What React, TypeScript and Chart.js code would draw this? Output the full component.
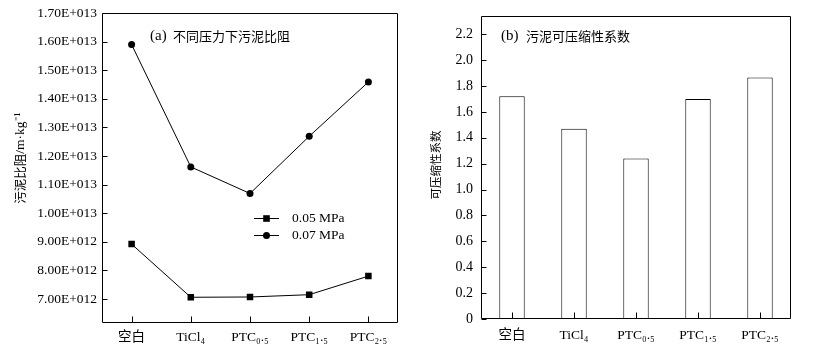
import React, { useEffect, useRef } from "react";
import { Chart, registerables } from "chart.js";

Chart.register(...registerables);

// ---------- data ----------
const categories = ["空白", "TiCl₄", "PTC₀.₅", "PTC₁.₅", "PTC₂.₅"];
const seriesLabels = ["0.05 MPa", "0.07 MPa"];
const resistance005 = [8.92e12, 7.06e12, 7.07e12, 7.15e12, 7.8e12];
const resistance007 = [1.59e13, 1.162e13, 1.069e13, 1.269e13, 1.459e13];
const compressibility = [1.72, 1.47, 1.24, 1.7, 1.865];
const leftYTicks = [7e12, 8e12, 9e12, 1e13, 1.1e13, 1.2e13, 1.3e13, 1.4e13, 1.5e13, 1.6e13, 1.7e13];
const rightYTicks = [0, 0.2, 0.4, 0.6, 0.8, 1.0, 1.2, 1.4, 1.6, 1.8, 2.0, 2.2];
const leftTitle = ["(a)", "不同压力下污泥比阻"];
const rightTitle = ["(b)", "污泥可压缩性系数"];
const leftYTitle = ["污泥比阻", "/m·kg⁻¹"];
const rightYTitle = ["可压缩性系数", ""];

const SERIF = "'Liberation Serif', 'Times New Roman', 'Noto Sans CJK SC', serif";
const CJK = "'Noto Sans CJK SC', sans-serif";

function formatSci(v: number): string {
  if (v === 0) return "0";
  const exp = Math.floor(Math.log10(v) + 1e-9);
  const mant = v / Math.pow(10, exp);
  return `${mant.toFixed(2)}E+${String(exp).padStart(3, "0")}`;
}

// frame + inward ticks + texts
function framePlugin(cfg: {
  titleParts: string[];
  titleX: number;
  cjkX: number;
  titleY: number;
  yTitle: string[];
  yTitleX: number;
  yTitleY: number;
  yTitleSize: number;
  legend?: boolean;
}) {
  return {
    id: "frameTicks",
    afterDraw(chart: any) {
      const ctx = chart.ctx as CanvasRenderingContext2D;
      const { left, right, top, bottom } = chart.chartArea;
      const xs = chart.scales.x;
      const ys = chart.scales.y;
      ctx.save();
      ctx.strokeStyle = "#000";
      ctx.lineWidth = 1;
      const L = Math.round(left) + 0.5;
      const R = Math.round(right) - 0.5;
      const T = Math.round(top) + 0.5;
      const B = Math.round(bottom) - 0.5;
      ctx.beginPath();
      ctx.rect(L, T, R - L, B - T);
      ctx.stroke();
      ctx.beginPath();
      ys.ticks.forEach((t: any) => {
        const y = Math.round(ys.getPixelForValue(t.value)) + 0.5;
        ctx.moveTo(L, y);
        ctx.lineTo(L + 5, y);
      });
      for (let i = 0; i < categories.length; i++) {
        const x = Math.round(xs.getPixelForTick(i)) + 0.5;
        ctx.moveTo(x, B);
        ctx.lineTo(x, B - 6);
      }
      ctx.stroke();

      // title
      ctx.fillStyle = "#000";
      ctx.textBaseline = "middle";
      ctx.textAlign = "left";
      ctx.font = `15px ${SERIF}`;
      ctx.fillText(cfg.titleParts[0], cfg.titleX, cfg.titleY);
      ctx.font = `13px ${CJK}`;
      ctx.fillText(cfg.titleParts[1], cfg.cjkX, cfg.titleY);

      // y title (CJK part + serif part)
      ctx.save();
      ctx.translate(cfg.yTitleX, cfg.yTitleY);
      ctx.rotate(-Math.PI / 2);
      ctx.textBaseline = "middle";
      ctx.textAlign = "left";
      const cjkFont = `${cfg.yTitleSize}px ${CJK}`;
      const serFont = `${cfg.yTitleSize + 1}px ${SERIF}`;
      ctx.font = cjkFont;
      const w1 = ctx.measureText(cfg.yTitle[0]).width;
      ctx.font = serFont;
      const w2 = cfg.yTitle[1] ? ctx.measureText(cfg.yTitle[1]).width : 0;
      const start = -(w1 + w2) / 2;
      ctx.font = cjkFont;
      ctx.fillText(cfg.yTitle[0], start, 0);
      if (cfg.yTitle[1]) {
        ctx.font = serFont;
        ctx.fillText(cfg.yTitle[1], start + w1, 0);
      }
      ctx.restore();

      if (cfg.legend) {
        chart.data.datasets.forEach((ds: any, i: number) => {
          const y = Math.round(218 + i * 17.3) + 0.5;
          ctx.beginPath();
          ctx.moveTo(254, y);
          ctx.lineTo(279, y);
          ctx.stroke();
          const cx = 266.5;
          if (ds.pointStyle === "rect") {
            ctx.fillRect(cx - 3.3, y - 3.3, 6.6, 6.6);
          } else {
            ctx.beginPath();
            ctx.arc(cx, y, 3.5, 0, Math.PI * 2);
            ctx.fill();
          }
          ctx.font = `13.5px ${SERIF}`;
          ctx.textAlign = "left";
          ctx.textBaseline = "middle";
          ctx.fillText(ds.label, 292, y);
        });
      }
      ctx.restore();
    },
  };
}

function LeftChart() {
  const ref = useRef<HTMLCanvasElement>(null);
  useEffect(() => {
    const chart = new Chart(ref.current!, {
      type: "line",
      data: {
        labels: categories,
        datasets: [
          {
            label: seriesLabels[0],
            data: resistance005,
            borderColor: "#000",
            backgroundColor: "#000",
            pointBackgroundColor: "#000",
            pointBorderColor: "#000",
            borderWidth: 1,
            pointStyle: "rect",
            pointRadius: 4.6,
            pointBorderWidth: 0,
            tension: 0,
          },
          {
            label: seriesLabels[1],
            data: resistance007,
            borderColor: "#000",
            backgroundColor: "#000",
            pointBackgroundColor: "#000",
            pointBorderColor: "#000",
            borderWidth: 1,
            pointStyle: "circle",
            pointRadius: 3.5,
            pointBorderWidth: 0,
            tension: 0,
          },
        ],
      },
      options: {
        responsive: false,
        animation: false,
        layout: { padding: { left: 0, right: 22, top: 13, bottom: 0 } },
        plugins: { legend: { display: false }, tooltip: { enabled: false } },
        scales: {
          x: {
            type: "category",
            offset: true,
            grid: { display: false, drawTicks: false },
            border: { display: false },
            ticks: { color: "#000", font: { size: 13.5, family: SERIF }, padding: 6, maxRotation: 0, autoSkip: false },
            afterFit: (s: any) => { s.height = 32; },
          },
          y: {
            min: 6.16e12,
            max: 1.7e13,
            grid: { display: false, drawTicks: false },
            border: { display: false },
            ticks: { color: "#000", font: { size: 13.5, family: SERIF }, padding: 5, callback: (v: any) => formatSci(Number(v)) },
            afterBuildTicks: (s: any) => { s.ticks = leftYTicks.map((v) => ({ value: v })); },
            afterFit: (s: any) => { s.width = 102; },
          },
        },
      },
      plugins: [
        framePlugin({
          titleParts: leftTitle,
          titleX: 150,
          cjkX: 173,
          titleY: 36,
          yTitle: leftYTitle,
          yTitleX: 20,
          yTitleY: 158,
          yTitleSize: 12.5,
          legend: true,
        }),
      ],
    } as any);
    return () => chart.destroy();
  }, []);
  return (
    <canvas ref={ref} width={420} height={355} style={{ position: "absolute", left: 0, top: 0, display: "block" }} />
  );
}

function RightChart() {
  const ref = useRef<HTMLCanvasElement>(null);
  useEffect(() => {
    const chart = new Chart(ref.current!, {
      type: "bar",
      data: {
        labels: categories,
        datasets: [
          {
            label: rightYTitle[0],
            data: compressibility,
            backgroundColor: "#fff",
            borderColor: "#000",
            borderWidth: 1,
            categoryPercentage: 1,
            barPercentage: 0.41,
          },
        ],
      },
      options: {
        responsive: false,
        animation: false,
        layout: { padding: { left: 0, right: 34, top: 13, bottom: 0 } },
        plugins: { legend: { display: false }, tooltip: { enabled: false } },
        scales: {
          x: {
            type: "category",
            offset: true,
            grid: { display: false, drawTicks: false },
            border: { display: false },
            ticks: { color: "#000", font: { size: 13.5, family: SERIF }, padding: 8, maxRotation: 0, autoSkip: false },
            afterFit: (s: any) => { s.height = 36; },
          },
          y: {
            min: 0,
            max: 2.3375,
            grid: { display: false, drawTicks: false },
            border: { display: false },
            ticks: {
              color: "#000",
              font: { size: 14, family: SERIF },
              padding: 8,
              callback: (v: any) => (Number(v) === 0 ? "0" : Number(v).toFixed(1)),
            },
            afterBuildTicks: (s: any) => { s.ticks = rightYTicks.map((v) => ({ value: v })); },
            afterFit: (s: any) => { s.width = 61; },
          },
        },
      },
      plugins: [
        framePlugin({
          titleParts: rightTitle,
          titleX: 81,
          cjkX: 106,
          titleY: 36,
          yTitle: rightYTitle,
          yTitleX: 16,
          yTitleY: 165,
          yTitleSize: 11.5,
        }),
      ],
    } as any);
    return () => chart.destroy();
  }, []);
  return (
    <canvas ref={ref} width={405} height={355} style={{ position: "absolute", left: 420, top: 0, display: "block" }} />
  );
}

export default function App() {
  return (
    <div style={{ position: "absolute", left: 0, top: 0, width: 825, height: 355, background: "#fff" }}>
      <LeftChart />
      <RightChart />
    </div>
  );
}
